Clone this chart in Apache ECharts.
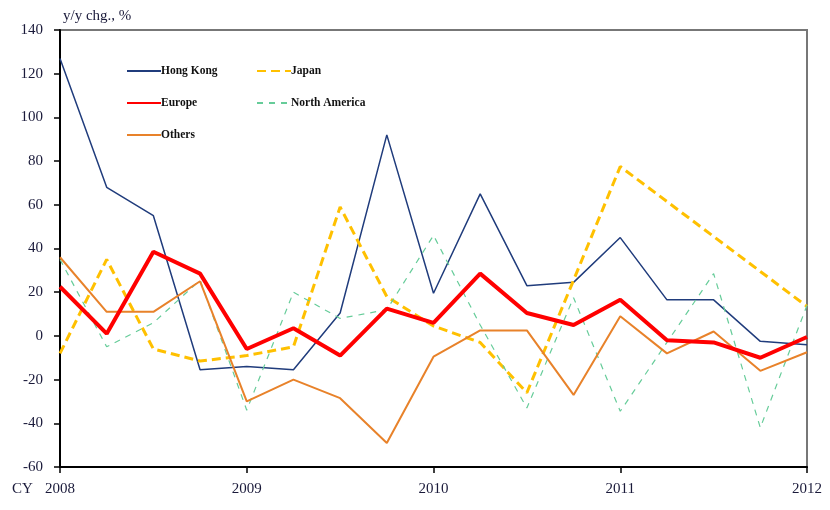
<!DOCTYPE html>
<html>
<head>
<meta charset="utf-8">
<script src="https://cdn.jsdelivr.net/npm/echarts@6/dist/echarts.min.js"></script>
<style>
  html, body { margin: 0; padding: 0; background: #fff; }
  #chart { width: 830px; height: 510px; }
</style>
</head>
<body>
<div id="chart"></div>
<script>
// quarters 2008Q1 .. 2012Q1
var quarters = ['2008Q1','2008Q2','2008Q3','2008Q4','2009Q1','2009Q2','2009Q3','2009Q4',
                '2010Q1','2010Q2','2010Q3','2010Q4','2011Q1','2011Q2','2011Q3','2011Q4','2012Q1'];
var yearLabels = ['2008', '2009', '2010', '2011', '2012'];

var hongKong     = [127, 68, 55, -15.5, -14, -15.5, 10.5, 92, 19.5, 65, 23, 24.5, 45, 16.5, 16.5, -2.5, -4];
var japan        = [-8, 35, -6, -11.5, -9, -5, 59, 18, 4.5, -3, -26, 25.5, 77.5, 61.5, 45.5, 29.5, 13.5];
var europe       = [22.5, 1, 38.5, 28.5, -6, 3.5, -9, 12.5, 6, 28.5, 10.5, 5, 16.5, -2, -3, -10, -0.5];
var northAmerica = [35, -5, 6, 25.5, -34, 20, 8, 12, 46, 5, -33, 17.5, -34.5, -3, 28.5, -42, 14];
var others       = [36, 11, 11, 25, -30, -20, -28.5, -49, -9.5, 2.5, 2.5, -27, 9, -8, 2, -16, -7.5];

var serif = '"Liberation Serif", "DejaVu Serif", serif';
var txtColor = '#1a1a3a';

var myChart = echarts.init(document.getElementById('chart'));

function legendAt(name, left, top) {
    return {
        data: [name],
        left: left,
        top: top,
        itemWidth: 34,
        itemHeight: 10,
        itemGap: 0,
        itemStyle: { opacity: 0 },
        textStyle: { fontFamily: serif, fontSize: 11.5, color: '#111', fontWeight: 'bold', padding: [0, 0, 0, -5] },
        selectedMode: false
    };
}

var option = {
    animation: false,
    backgroundColor: '#fff',
    grid: {
        left: 60, right: 23, top: 30, bottom: 43,
        show: true,
        borderColor: '#777',
        borderWidth: 2
    },
    legend: [
        legendAt('Hong Kong', 121, 60),
        legendAt('Japan', 251, 60),
        legendAt('Europe', 121, 92),
        legendAt('North America', 251, 92),
        legendAt('Others', 121, 124)
    ],
    xAxis: {
        type: 'category',
        data: quarters,
        boundaryGap: false,
        axisLine: { onZero: false, lineStyle: { color: '#000', width: 2 } },
        axisTick: { interval: 3, length: 6, lineStyle: { color: '#000', width: 1.5 } },
        axisLabel: {
            interval: 3,
            margin: 15,
            fontFamily: serif,
            fontSize: 15,
            color: txtColor,
            formatter: function (v, i) { return yearLabels[i / 4]; }
        },
        splitLine: { show: false }
    },
    yAxis: {
        type: 'value',
        min: -60,
        max: 140,
        interval: 20,
        axisLine: { show: true, lineStyle: { color: '#000', width: 2 } },
        axisTick: { show: true, length: 6, lineStyle: { color: '#000', width: 1.5 } },
        axisLabel: { fontFamily: serif, fontSize: 15, color: txtColor, margin: 17 },
        splitLine: { show: false }
    },
    graphic: [
        { type: 'text', left: 63, top: 9, style: { text: 'y/y chg., %', font: '15px ' + serif, fill: txtColor } },
        { type: 'text', left: 12, top: 482, style: { text: 'CY', font: '15px ' + serif, fill: txtColor } }
    ],
    series: [
        { name: 'Hong Kong', type: 'line', data: hongKong, symbol: 'none',
          lineStyle: { color: '#203c7c', width: 1.5 }, itemStyle: { color: '#203c7c' } },
        { name: 'Japan', type: 'line', data: japan, symbol: 'none',
          lineStyle: { color: '#ffc000', width: 3, type: [9, 5] }, itemStyle: { color: '#ffc000' } },
        { name: 'Europe', type: 'line', data: europe, symbol: 'none', z: 5,
          lineStyle: { color: '#ff0000', width: 4 }, itemStyle: { color: '#ff0000' } },
        { name: 'North America', type: 'line', data: northAmerica, symbol: 'none',
          lineStyle: { color: '#66cc99', width: 1.2, type: [6, 6] }, itemStyle: { color: '#66cc99' } },
        { name: 'Others', type: 'line', data: others, symbol: 'none',
          lineStyle: { color: '#e8822a', width: 2 }, itemStyle: { color: '#e8822a' } }
    ]
};

myChart.setOption(option);
</script>
</body>
</html>
